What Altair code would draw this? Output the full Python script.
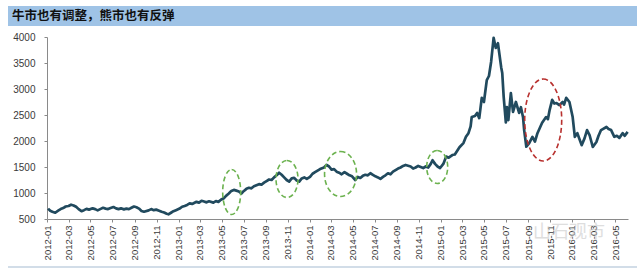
import altair as alt
import pandas as pd

# ---- data ----
dates = [
    # 2012
    "2012-01-04", "2012-01-10", "2012-01-16", "2012-01-24", "2012-02-01", "2012-02-08", "2012-02-15", "2012-02-22",
    "2012-03-01", "2012-03-08", "2012-03-15", "2012-03-22", "2012-03-29", "2012-04-06", "2012-04-13", "2012-04-20",
    "2012-04-27", "2012-05-07", "2012-05-14", "2012-05-21", "2012-05-28", "2012-06-05", "2012-06-12", "2012-06-19",
    "2012-06-26", "2012-07-04", "2012-07-11", "2012-07-18", "2012-07-25", "2012-08-02", "2012-08-09", "2012-08-16",
    "2012-08-23", "2012-08-30", "2012-09-06", "2012-09-13", "2012-09-20", "2012-09-27", "2012-10-10", "2012-10-17",
    "2012-10-24", "2012-10-31", "2012-11-08", "2012-11-15", "2012-11-22", "2012-11-29", "2012-12-04", "2012-12-11",
    "2012-12-18", "2012-12-25",
    # 2013
    "2013-01-04", "2013-01-11", "2013-01-18", "2013-01-25", "2013-02-01", "2013-02-08", "2013-02-20", "2013-02-27",
    "2013-03-06", "2013-03-13", "2013-03-20", "2013-03-27", "2013-04-08", "2013-04-15", "2013-04-22", "2013-04-29",
    "2013-05-07", "2013-05-14", "2013-05-21", "2013-05-28", "2013-06-04", "2013-06-11", "2013-06-18", "2013-06-25",
    "2013-07-02", "2013-07-09", "2013-07-16", "2013-07-23", "2013-07-30", "2013-08-06", "2013-08-13", "2013-08-20",
    "2013-08-27", "2013-09-03", "2013-09-10", "2013-09-17", "2013-09-24", "2013-10-01", "2013-10-08", "2013-10-15",
    "2013-10-22", "2013-10-29", "2013-11-05", "2013-11-12", "2013-11-19", "2013-11-26", "2013-12-03", "2013-12-10",
    "2013-12-17", "2013-12-24",
    # 2014
    "2014-01-02", "2014-01-09", "2014-01-16", "2014-01-23", "2014-01-30", "2014-02-10", "2014-02-17", "2014-02-24",
    "2014-03-03", "2014-03-10", "2014-03-17", "2014-03-24", "2014-03-31", "2014-04-08", "2014-04-15", "2014-04-22",
    "2014-04-29", "2014-05-08", "2014-05-15", "2014-05-22", "2014-05-29", "2014-06-05", "2014-06-12", "2014-06-19",
    "2014-06-26", "2014-07-03", "2014-07-10", "2014-07-17", "2014-07-24", "2014-07-31", "2014-08-07", "2014-08-14",
    "2014-08-21", "2014-08-28", "2014-09-04", "2014-09-11", "2014-09-18", "2014-09-25", "2014-10-09", "2014-10-16",
    "2014-10-23", "2014-10-30", "2014-11-06", "2014-11-13", "2014-11-20", "2014-11-27", "2014-12-04", "2014-12-09",
    "2014-12-16", "2014-12-23", "2014-12-30",
    # 2015
    "2015-01-08", "2015-01-16", "2015-01-23", "2015-02-02", "2015-02-09", "2015-02-22", "2015-03-05", "2015-03-12",
    "2015-03-19", "2015-03-25", "2015-03-28", "2015-04-06", "2015-04-12", "2015-04-18", "2015-04-25", "2015-05-01",
    "2015-05-09", "2015-05-15", "2015-05-21", "2015-05-28", "2015-06-03", "2015-06-09", "2015-06-18", "2015-06-21",
    "2015-06-25", "2015-07-01", "2015-07-04", "2015-07-08", "2015-07-15", "2015-07-21", "2015-07-29", "2015-08-07",
    "2015-08-12", "2015-08-18", "2015-08-21", "2015-08-27", "2015-09-04", "2015-09-13", "2015-09-20", "2015-09-27",
    "2015-10-10", "2015-10-21", "2015-10-26", "2015-10-31", "2015-11-07", "2015-11-13", "2015-11-19", "2015-11-27",
    "2015-12-06", "2015-12-10", "2015-12-16", "2015-12-25",
    # 2016
    "2016-01-03", "2016-01-09", "2016-01-16", "2016-01-28", "2016-02-05", "2016-02-12", "2016-02-19", "2016-02-28",
    "2016-03-09", "2016-03-15", "2016-03-22", "2016-04-06", "2016-04-12", "2016-04-19", "2016-04-28", "2016-05-05",
    "2016-05-12", "2016-05-21", "2016-05-27", "2016-06-04",
]
values = [
    # 2012
    700, 660, 640, 620, 660, 690, 710, 740,
    750, 775, 760, 735, 690, 650, 670, 695,
    680, 705, 690, 665, 690, 715, 700, 690,
    710, 730, 705, 690, 705, 685, 700, 690,
    715, 740, 725, 700, 655, 640, 665, 690,
    670, 680, 660, 640, 625, 600, 590, 620,
    650, 670,
    # 2013
    700, 735, 750, 770, 800, 790, 830, 815,
    850, 835, 820, 840, 815, 845, 830, 870,
    900, 950, 990, 1040, 1060, 1045, 1030, 990,
    1040, 1080, 1100, 1090, 1130, 1150, 1170, 1160,
    1200, 1230, 1260, 1250, 1300, 1340, 1390, 1350,
    1300, 1250, 1220, 1280, 1290, 1240, 1220, 1280,
    1300, 1270,
    # 2014
    1310, 1370, 1400, 1430, 1460, 1490, 1540, 1510,
    1450, 1460, 1410, 1390, 1360, 1400, 1370, 1340,
    1320, 1250, 1310, 1290, 1330, 1350, 1340, 1380,
    1350, 1320, 1300, 1270, 1310, 1340, 1380, 1360,
    1410, 1440, 1470, 1490, 1520, 1540, 1510, 1470,
    1490, 1520, 1500, 1480, 1510, 1490, 1560, 1630,
    1560, 1510, 1480,
    # 2015
    1560, 1700, 1680, 1730, 1740, 1880, 1960, 2080,
    2150, 2280, 2460, 2480, 2540, 2440, 2830, 2750,
    3170, 3250, 3520, 3985, 3790, 3880, 3420, 3310,
    2850, 2360, 2650, 2400, 2920, 2560, 2750, 2540,
    2650, 2450, 2210, 1890, 1960, 2080, 1990, 2150,
    2350, 2460, 2420, 2600, 2790, 2720, 2730, 2690,
    2750, 2700, 2830, 2750,
    # 2016
    2460, 2080, 2150, 1920, 2050, 2210, 2115, 1885,
    1980, 2100, 2210, 2270, 2230, 2210, 2080, 2100,
    2060, 2150, 2100, 2175,
]
assert len(dates) == len(values)

tick_labels = [
    "2012-01", "2012-03", "2012-05", "2012-07", "2012-09", "2012-11",
    "2013-01", "2013-03", "2013-05", "2013-07", "2013-09", "2013-11",
    "2014-01", "2014-03", "2014-05", "2014-07", "2014-09", "2014-11",
    "2015-01", "2015-03", "2015-05", "2015-07", "2015-09", "2015-11",
    "2016-01", "2016-03", "2016-05",
]
y_ticks = [500, 1000, 1500, 2000, 2500, 3000, 3500, 4000]

# annotation ellipses (centre date / value)
ell_dates = ["2013-05-29", "2013-10-30", "2014-03-28", "2014-12-22", "2015-10-13"]
ell_values = [1019, 1269, 1365, 1500, 2404]
ell_colors = ["#6cb24f", "#6cb24f", "#6cb24f", "#6cb24f", "#b8312f"]

title_text = "牛市也有调整，熊市也有反弹"
watermark = "山石观市"

# ---- styling / geometry ----
ell_w = [18, 22, 32, 21, 37]
ell_h = [45, 37, 45, 33, 82]


def ellipse_path(ratio):
    k = 0.5523
    w = ratio
    return (f"M 0 -1 C {k*w:.4f} -1 {w:.4f} {-k} {w:.4f} 0 "
            f"C {w:.4f} {k} {k*w:.4f} 1 0 1 "
            f"C {-k*w:.4f} 1 {-w:.4f} {k} {-w:.4f} 0 "
            f"C {-w:.4f} {-k} {-k*w:.4f} -1 0 -1 Z")


df = pd.DataFrame({"date": dates, "value": values})
ell = pd.DataFrame({
    "date": ell_dates,
    "value": ell_values,
    "col": ell_colors,
    "path": [ellipse_path(w / h) for w, h in zip(ell_w, ell_h)],
    "sz": [h * h for h in ell_h],
})

W, H = 581, 182
LEFT, TOP = 47, 37

def ym(s):
    y, m = s.split("-")
    return alt.DateTime(year=int(y), month=int(m), date=1, utc=True)

xscale = alt.Scale(
    type="utc",
    domain=[alt.DateTime(year=2012, month=1, date=1, utc=True),
            alt.DateTime(year=2016, month=6, date=5, utc=True)],
)
yscale = alt.Scale(domain=[500, 4000], nice=False, zero=False)

x_axis = alt.Axis(
    values=[ym(s) for s in tick_labels], format="%Y-%m", labelAngle=-90,
    labelFont="Liberation Sans", labelFontSize=9.5, labelColor="#3a3a3a",
    tickSize=3, labelPadding=3, grid=False, domainColor="#8a8a8a", tickColor="#8a8a8a",
    title=None, labelOverlap=False, labelFlush=False, labelBound=False,
)
y_axis = alt.Axis(
    values=y_ticks, format="d", labelFont="Liberation Sans", labelFontSize=10, labelColor="#3a3a3a",
    tickSize=3, labelPadding=9, grid=False, domainColor="#8a8a8a", tickColor="#8a8a8a",
    title=None, labelOverlap=False, labelFlush=False, labelBound=False,
)

line = alt.Chart(df).mark_line(color="#214a5e", strokeWidth=2.7, strokeJoin="round").encode(
    x=alt.X("date:T", scale=xscale, axis=x_axis),
    y=alt.Y("value:Q", scale=yscale, axis=y_axis),
)

ellipses = alt.Chart(ell).mark_point(filled=False, strokeDash=[5, 3], strokeWidth=1.6, opacity=1).encode(
    x=alt.X("date:T", scale=xscale, axis=x_axis),
    y=alt.Y("value:Q", scale=yscale, axis=y_axis),
    shape=alt.Shape("path:N", scale=None),
    size=alt.Size("sz:Q", scale=None),
    stroke=alt.Color("col:N", scale=None),
)

band = alt.Chart(pd.DataFrame({"t": [title_text]})).mark_rect(color="#9fc3e6").encode(
    x=alt.value(8 - LEFT), x2=alt.value(637 - LEFT),
    y=alt.value(6 - TOP), y2=alt.value(26 - TOP),
)
title = alt.Chart(pd.DataFrame({"t": [title_text]})).mark_text(
    align="left", baseline="middle", font="Noto Sans CJK SC", fontSize=12.5,
    fontWeight="bold", color="#111111",
).encode(x=alt.value(12 - LEFT), y=alt.value(16 - TOP), text="t:N")

bottom = alt.Chart(pd.DataFrame({"t": [0]})).mark_rule(color="#c3d2e0", strokeWidth=1.5).encode(
    x=alt.value(8 - LEFT), x2=alt.value(637 - LEFT), y=alt.value(267 - TOP),
)

wm = alt.Chart(pd.DataFrame({"t": [watermark]})).mark_text(
    align="left", baseline="middle", font="Noto Sans CJK SC", fontSize=18,
    color="#c4c4c4", opacity=0.55,
).encode(x=alt.value(533 - LEFT), y=alt.value(233 - TOP), text="t:N")

chart = alt.layer(band, title, bottom, line, ellipses, wm).properties(
    width=W, height=H,
    autosize=alt.AutoSizeParams(type="none"),
    padding={"left": LEFT, "top": TOP, "right": 640 - LEFT - W, "bottom": 269 - TOP - H},
    background="white",
).configure_view(stroke=None).configure_axis(labelOverlap=False)

chart.save("out.html", embed_options={"renderer": "svg", "actions": False})
